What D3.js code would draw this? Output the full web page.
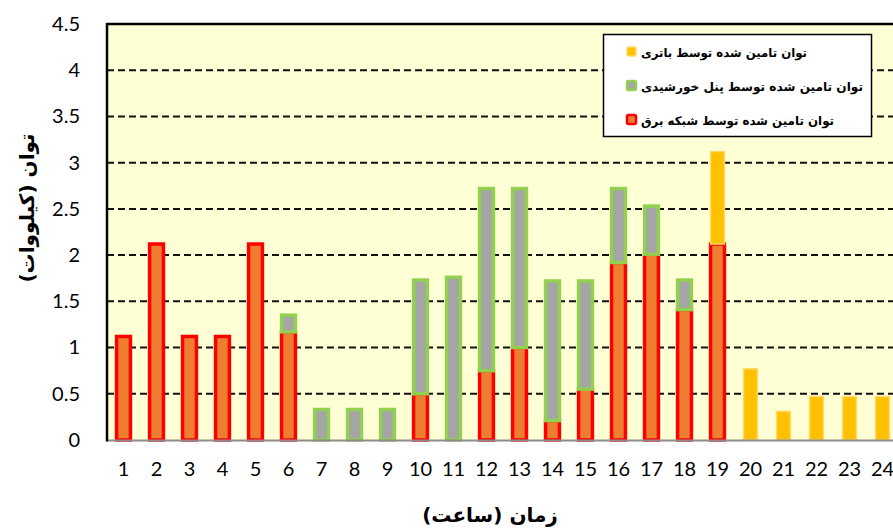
<!DOCTYPE html>
<html>
<head>
<meta charset="utf-8">
<script src="https://cdn.jsdelivr.net/npm/d3@7"></script>
<style>
  html, body { margin: 0; padding: 0; background: #ffffff; }
  svg { display: block; }
</style>
</head>
<body>
<svg id="chart" width="893" height="529"></svg>
<script>
// ---- data ----
const hours = ["1","2","3","4","5","6","7","8","9","10","11","12","13","14","15","16","17","18","19","20","21","22","23","24"];
const gridPower    = [1.12,2.12,1.12,1.12,2.12,1.17,0,0,0,0.50,0,0.75,1.00,0.21,0.55,1.92,2.01,1.41,2.12,0,0,0,0,0];
const solarPower   = [0,0,0,0,0,0.18,0.33,0.33,0.33,1.23,1.76,1.97,1.72,1.51,1.17,0.80,0.52,0.32,0,0,0,0,0,0];
const batteryPower = [0,0,0,0,0,0,0,0,0,0,0,0,0,0,0,0,0,0,1.00,0.77,0.31,0.47,0.47,0.47];
const yTicks = [0,0.5,1,1.5,2,2.5,3,3.5,4,4.5];
const seriesNames = {
  battery: "توان تامین شده توسط باتری",
  solar: "توان تامین شده توسط پنل خورشیدی",
  grid: "توان تامین شده توسط شبکه برق"
};
const yTitle = "توان (کیلووات)";
const xTitle = "زمان (ساعت)";

// ---- layout ----
const svg = d3.select("#chart");
const L = 107, T = 24, B = 440;
const bandW = 33;
const R = L + bandW * hours.length;

const x = d3.scaleBand().domain(hours).range([L, R]).paddingInner(0.58).paddingOuter(0.29);
const y = d3.scaleLinear().domain([0, 4.5]).range([B, T]);

const styles = {
  grid:    { fill: "#ED7D31", stroke: "#FF0000", sw: 3.5 },
  solar:   { fill: "#A5A5A5", stroke: "#92D050", sw: 3.5 },
  battery: { fill: "#FFC000", stroke: "#FFD966", sw: 1.5 }
};

// plot background
svg.append("rect").attr("x", L).attr("y", T).attr("width", R - L).attr("height", B - T)
  .attr("fill", "#FFFFD5");

// gridlines
svg.append("g").selectAll("line").data(yTicks.filter(d => d > 0 && d < 4.5)).join("line")
  .attr("x1", L).attr("x2", R)
  .attr("y1", d => y(d)).attr("y2", d => y(d))
  .attr("stroke", "#111").attr("stroke-width", 2).attr("stroke-dasharray", "7,4");

// stacked bars
const table = hours.map((h, i) => ({ hour: h, grid: gridPower[i], solar: solarPower[i], battery: batteryPower[i] }));
const stack = d3.stack().keys(["grid", "solar", "battery"]);
const layers = stack(table);
const gBars = svg.append("g");
layers.forEach(layer => {
  const st = styles[layer.key];
  gBars.append("g").selectAll("rect").data(layer.filter(d => d[1] - d[0] > 0)).join("rect")
    .attr("x", d => x(d.data.hour))
    .attr("width", x.bandwidth())
    .attr("y", d => y(d[1]))
    .attr("height", d => y(d[0]) - y(d[1]))
    .attr("fill", st.fill).attr("stroke", st.stroke).attr("stroke-width", st.sw);
});

// axes lines
svg.append("line").attr("x1", L).attr("x2", R).attr("y1", B + 0.5).attr("y2", B + 0.5)
  .attr("stroke", "#8c8c8c").attr("stroke-width", 2);
svg.append("line").attr("x1", L - 0.5).attr("x2", R).attr("y1", T).attr("y2", T)
  .attr("stroke", "#000").attr("stroke-width", 2.5);
svg.append("line").attr("x1", L).attr("x2", L).attr("y1", T - 1).attr("y2", B + 1.5)
  .attr("stroke", "#000").attr("stroke-width", 2.5);

// y axis labels
const yAxis = d3.axisLeft(y).tickValues(yTicks).tickSize(0).tickPadding(27).tickFormat(d3.format("~g"));
const gy = svg.append("g").attr("transform", `translate(${L},0)`).call(yAxis);
gy.select(".domain").remove();
gy.selectAll("text").attr("font-family", "Lato, 'Open Sans', sans-serif").attr("font-size", 20).attr("fill", "#000");

// x axis labels
const xAxis = d3.axisBottom(x).tickSize(0).tickPadding(22);
const gx = svg.append("g").attr("transform", `translate(0,${B})`).call(xAxis);
gx.select(".domain").remove();
gx.selectAll("text").attr("font-family", "Lato, 'Open Sans', sans-serif").attr("font-size", 20).attr("fill", "#000");

// axis titles
svg.append("text").attr("transform", `translate(34,208) rotate(-90)`)
  .attr("text-anchor", "middle").attr("direction", "rtl")
  .attr("font-family", "'DejaVu Sans', sans-serif").attr("font-weight", "bold").attr("font-size", 20)
  .text(yTitle);
svg.append("text").attr("x", 490).attr("y", 522)
  .attr("text-anchor", "middle").attr("direction", "rtl")
  .attr("font-family", "'DejaVu Sans', sans-serif").attr("font-weight", "bold").attr("font-size", 20)
  .text(xTitle);

// legend
const lg = svg.append("g");
lg.append("rect").attr("x", 603.5).attr("y", 34.5).attr("width", 268).attr("height", 102)
  .attr("fill", "#fff").attr("stroke", "#000").attr("stroke-width", 1.5);
const legendKeys = ["battery", "solar", "grid"];
const legendWidths = { battery: 166, solar: 222, grid: 193 };
legendKeys.forEach((k, i) => {
  const cy = 52 + i * 34;
  const st = styles[k];
  lg.append("rect").attr("x", 627).attr("y", cy - 5).attr("width", 9).attr("height", 9)
    .attr("rx", 1.5)
    .attr("fill", st.fill).attr("stroke", st.stroke).attr("stroke-width", k === "battery" ? 1.5 : 2.5);
  lg.append("text").attr("x", 641).attr("y", cy + 5)
    .attr("text-anchor", "end").attr("direction", "rtl")
    .attr("font-family", "'DejaVu Sans', sans-serif").attr("font-weight", "bold").attr("font-size", 12)
    .attr("textLength", legendWidths[k]).attr("lengthAdjust", "spacingAndGlyphs")
    .text(seriesNames[k]);
});
</script>
</body>
</html>
